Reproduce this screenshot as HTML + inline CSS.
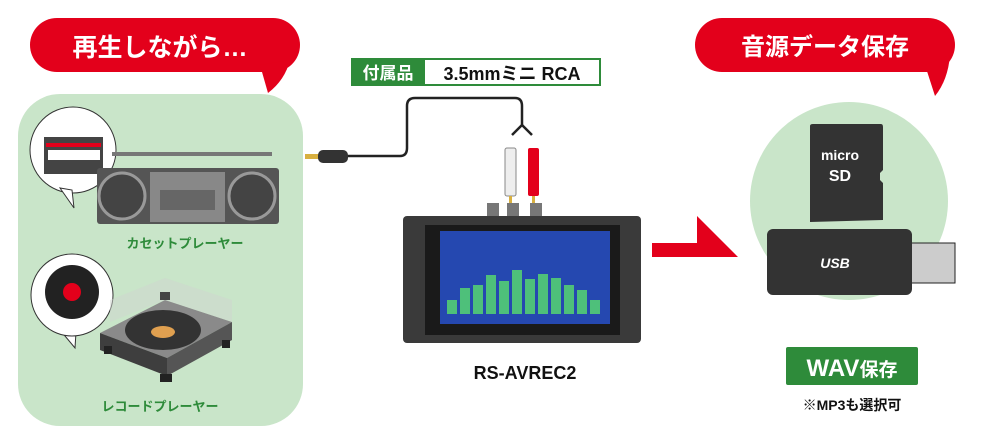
<!DOCTYPE html>
<html><head><meta charset="utf-8"><style>
body{margin:0;width:1000px;height:431px;background:#fff;overflow:hidden;font-family:"Liberation Sans","Noto Sans CJK JP",sans-serif}
</style></head><body>
<svg width="1000" height="431" viewBox="0 0 1000 431" xmlns="http://www.w3.org/2000/svg" font-family="Liberation Sans, Noto Sans CJK JP, sans-serif">
<!-- left panel -->
<rect x="18" y="94" width="285" height="332" rx="42" fill="#c9e5c9"/>
<!-- left bubble -->
<rect x="30" y="18" width="270" height="54" rx="27" fill="#e3001b"/>
<path d="M260 65 L268 93 Q285 80 290 60 Z" fill="#e3001b"/>
<text x="160" y="56" font-size="25" font-weight="bold" fill="#fff" text-anchor="middle">再生しながら…</text>
<!-- cassette bubble -->
<circle cx="73" cy="150" r="43" fill="#fff" stroke="#333" stroke-width="1"/>
<path d="M60 188 L74 208 L72 190 Z" fill="#fff" stroke="#333"/>
<rect x="44" y="137" width="59" height="37" fill="#444"/>
<rect x="46" y="143" width="55" height="4" fill="#e3001b"/>
<rect x="48" y="150" width="52" height="10" fill="#fff"/>
<!-- boombox -->
<rect x="112" y="152" width="160" height="4" fill="#777"/>
<rect x="97" y="168" width="182" height="56" rx="3" fill="#555"/>
<rect x="150" y="172" width="75" height="50" fill="#888"/>
<rect x="160" y="190" width="55" height="20" fill="#666"/>
<circle cx="122" cy="196" r="23" fill="#444" stroke="#999" stroke-width="3"/>
<circle cx="252" cy="196" r="23" fill="#444" stroke="#999" stroke-width="3"/>
<text x="185" y="248" font-size="13" font-weight="bold" fill="#2e8b3a" text-anchor="middle">カセットプレーヤー</text>
<!-- record bubble -->
<path d="M60 330 L75 348 L76 332 Z" fill="#fff" stroke="#333"/>
<circle cx="72" cy="295" r="41" fill="#fff" stroke="#333"/>
<circle cx="72" cy="292" r="27" fill="#222"/>
<circle cx="72" cy="292" r="9" fill="#e3001b"/>
<!-- turntable -->
<path d="M100 333 L165 300 L232 322 L167 358 Z" fill="#8a8a8a"/>
<path d="M100 333 L167 358 L167 376 L100 350 Z" fill="#3e3e3e"/>
<path d="M167 358 L232 322 L232 340 L167 376 Z" fill="#555"/>
<rect x="104" y="346" width="8" height="8" fill="#222"/><rect x="160" y="374" width="12" height="8" fill="#222"/><rect x="222" y="340" width="8" height="8" fill="#222"/>
<ellipse cx="163" cy="330" rx="38" ry="20" fill="#333"/>
<ellipse cx="163" cy="332" rx="12" ry="6" fill="#e0a050"/>
<path d="M110 300 L165 278 L232 300 L232 322 L165 300 L110 322 Z" fill="#cfd6cf" opacity="0.5"/>
<rect x="160" y="292" width="10" height="8" fill="#444"/>
<text x="160" y="411" font-size="13" font-weight="bold" fill="#2e8b3a" text-anchor="middle">レコードプレーヤー</text>
<!-- cable -->
<rect x="305" y="154" width="14" height="5" fill="#d8b040"/>
<rect x="318" y="150" width="30" height="13" rx="5" fill="#333"/>
<path d="M348 156 L400 156 Q407 156 407 148 L407 106 Q407 98 415 98 L515 98 Q522 98 522 106 L522 125" fill="none" stroke="#222" stroke-width="2.5"/>
<path d="M522 125 L512 135 M522 125 L532 135" stroke="#222" stroke-width="2.5"/>
<rect x="505" y="148" width="11" height="48" rx="2" fill="#eee" stroke="#888"/>
<rect x="528" y="148" width="11" height="48" rx="2" fill="#e3001b"/>
<rect x="509" y="196" width="3" height="12" fill="#d8b040"/>
<rect x="532" y="196" width="3" height="12" fill="#d8b040"/>
<!-- label -->
<rect x="352" y="59" width="248" height="26" fill="#fff" stroke="#2e8b3a" stroke-width="2"/>
<rect x="352" y="59" width="73" height="26" fill="#2e8b3a"/>
<text x="388" y="79" font-size="17" font-weight="bold" fill="#fff" text-anchor="middle">付属品</text>
<text x="512" y="80" font-size="18" font-weight="bold" fill="#111" text-anchor="middle">3.5mmミニ RCA</text>
<!-- device -->
<rect x="487" y="203" width="12" height="14" fill="#777"/><rect x="507" y="203" width="12" height="14" fill="#777"/><rect x="530" y="203" width="12" height="14" fill="#777"/>
<rect x="403" y="216" width="238" height="127" rx="4" fill="#3a3a3a"/>
<rect x="425" y="225" width="195" height="110" fill="#1a1a1a"/>
<rect x="440" y="231" width="170" height="93" fill="#2548b0"/>
<g fill="#4ec07a">
<rect x="447" y="300" width="10" height="14"/><rect x="460" y="288" width="10" height="26"/><rect x="473" y="285" width="10" height="29"/><rect x="486" y="275" width="10" height="39"/><rect x="499" y="281" width="10" height="33"/><rect x="512" y="270" width="10" height="44"/><rect x="525" y="279" width="10" height="35"/><rect x="538" y="274" width="10" height="40"/><rect x="551" y="278" width="10" height="36"/><rect x="564" y="285" width="10" height="29"/><rect x="577" y="290" width="10" height="24"/><rect x="590" y="300" width="10" height="14"/>
</g>
<!-- arrow -->
<path d="M652 243 L697 243 L697 216 L738 257 L652 257 Z" fill="#e3001b"/>
<text x="525" y="379" font-size="18" font-weight="bold" fill="#111" text-anchor="middle">RS-AVREC2</text>
<!-- right -->
<circle cx="849" cy="201" r="99" fill="#c9e5c9"/>
<rect x="695" y="18" width="260" height="54" rx="27" fill="#e3001b"/>
<path d="M925 65 L935 96 Q948 80 950 55 Z" fill="#e3001b"/>
<text x="825" y="55" font-size="24" font-weight="bold" fill="#fff" text-anchor="middle">音源データ保存</text>
<path d="M810 126 Q810 124 813 124 L881 124 Q883 124 883 127 L883 170 L880 173 L880 180 L883 183 L883 220 L810 222 Z" fill="#333"/>
<text x="840" y="160" font-size="14" font-weight="bold" fill="#fff" text-anchor="middle">micro</text>
<text x="840" y="181" font-size="16" font-weight="bold" fill="#fff" text-anchor="middle">SD</text>
<rect x="910" y="243" width="45" height="40" fill="#ccc" stroke="#222"/>
<rect x="767" y="229" width="145" height="66" rx="6" fill="#333"/>
<text x="835" y="268" font-size="14" font-weight="bold" font-style="italic" fill="#fff" text-anchor="middle">USB</text>
<rect x="786" y="347" width="132" height="38" rx="2" fill="#2e8b3a"/>
<text x="852" y="376" font-size="24" font-weight="bold" fill="#fff" text-anchor="middle">WAV<tspan font-size="19">保存</tspan></text>
<text x="852" y="410" font-size="14" font-weight="bold" fill="#111" text-anchor="middle">※MP3も選択可</text>
</svg>
</body></html>
